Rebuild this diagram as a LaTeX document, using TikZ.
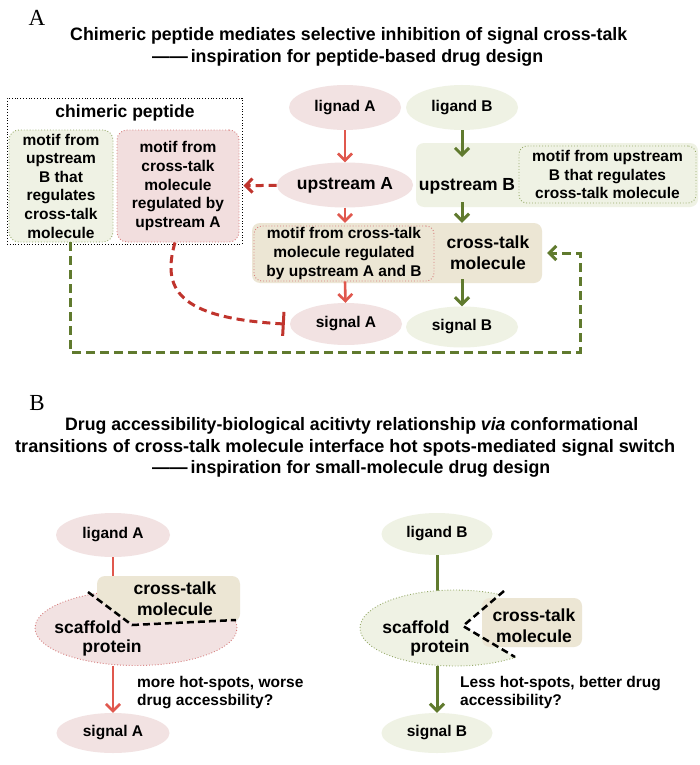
\documentclass[tikz,border=0pt]{standalone}
\usepackage{fontspec}
\usepackage{graphicx}
\setmainfont{Liberation Sans}
\newfontfamily\serifA{Liberation Serif}
\usetikzlibrary{arrows.meta,shapes.geometric}
\definecolor{pinkfill}{RGB}{242,226,226}
\definecolor{pinkbox}{RGB}{242,222,222}
\definecolor{greenfill}{RGB}{239,242,228}
\definecolor{tanfill}{RGB}{236,230,212}
\definecolor{redline}{RGB}{224,88,78}
\definecolor{darkred}{RGB}{192,52,45}
\definecolor{greenline}{RGB}{96,122,46}
\definecolor{reddot}{RGB}{215,125,125}
\definecolor{greendot}{RGB}{150,170,105}
\tikzset{
  ttl/.style={font=\bfseries\fontsize{18}{20}\selectfont, inner sep=0pt, anchor=base west},
  lbl/.style={font=\bfseries\fontsize{15.5}{18.6}\selectfont, align=center, inner sep=0pt},
  big/.style={font=\bfseries\fontsize{17.5}{21}\selectfont, align=center, inner sep=0pt},
  ell/.style={ellipse, minimum width=112pt, minimum height=44pt, inner sep=0pt},
  pinkell/.style={ell, fill=pinkfill},
  greenell/.style={ell, fill=greenfill},
  tip/.style={-{Straight Barb[length=7pt,width=14pt]}},
  rarr/.style={draw=redline, line width=2.6pt, tip},
  garr/.style={draw=greenline, line width=3pt, tip},
  rdash/.style={draw=darkred, line width=3pt, dash pattern=on 8pt off 5pt, tip},
  inh/.style={draw=darkred, line width=3pt, dash pattern=on 8pt off 5pt, -{Bar[width=24pt]}},
  gdash/.style={draw=greenline, line width=3pt, dash pattern=on 9pt off 5pt, tip},
  bdash/.style={draw=black, line width=2.5pt, dash pattern=on 7pt off 4pt},
  tanbox/.style={rectangle, rounded corners=8pt, fill=tanfill, inner sep=0pt},
}
\begin{document}
\begin{tikzpicture}[x=1pt,y=-1pt]
\useasboundingbox (0,0) rectangle (700,765);
\fill[white] (0,0) rectangle (700,765);

% ---------------- Panel A ----------------
\node[font=\serifA\fontsize{23}{23}\selectfont, inner sep=0pt] (labA) at (37,18) {A};
\node[ttl] (tA1) at (70,41) {\resizebox{557pt}{\height}{Chimeric peptide mediates selective inhibition of signal cross-talk}};
\node[ttl] (tA2) at (152,63) {\resizebox{391pt}{\height}{——\,inspiration for peptide-based drug design}};

% chimeric peptide container
\node[draw=black, dotted, line width=0.8pt, minimum width=235pt, minimum height=146pt, inner sep=0pt] (chim) at (124.5,171) {};
\node[big] (chimt) at (125,113) {chimeric peptide};
\node[lbl, rectangle, rounded corners=10pt, fill=greenfill, draw=greendot, dotted, line width=0.9pt, minimum width=104pt, minimum height=112pt] (gmotif) at (61,186) {motif from\\upstream\\B that\\regulates\\cross-talk\\molecule};
\node[lbl, rectangle, rounded corners=10pt, fill=pinkbox, draw=reddot, dotted, line width=0.9pt, minimum width=122pt, minimum height=112pt] (rmotif) at (178,186) {motif from\\cross-talk\\molecule\\regulated by\\upstream A};

% ligands / upstream
\node[pinkell, minimum height=45pt, lbl] (ligA) at (345,107.5) {lignad A};
\node[greenell, minimum height=45pt, lbl] (ligB) at (462,107.5) {ligand B};
\node[pinkell, minimum width=110pt, minimum height=45pt, big] (upA) at (345,185) {upstream A};

\node[tanbox, fill=greenfill, minimum width=282pt, minimum height=64pt] (upB) at (557,175) {};
\node[big] (upBt) at (467,186) {upstream B};
\node[lbl, rectangle, rounded corners=8pt, draw=greendot, dotted, line width=0.9pt, minimum width=177pt, minimum height=57pt] (bmotif) at (607.5,174.5) {motif from upstream\\B that regulates\\cross-talk molecule};

\node[tanbox, minimum width=290pt, minimum height=60pt] (ctbox) at (397,253) {};
\node[lbl, rectangle, rounded corners=8pt, fill=tanfill, draw=reddot, dotted, line width=0.9pt, minimum width=180pt, minimum height=55pt] (amotif) at (344,253.5) {motif from cross-talk\\molecule regulated\\by upstream A and B};
\node[big] (ctt) at (488,252.5) {cross-talk\\molecule};

\node[pinkell, minimum height=42pt, lbl] (sigA) at (346,324) {signal A};
\node[greenell, minimum height=41pt, lbl] (sigB) at (462,327) {signal B};

% connectors panel A
\draw[rarr] (ligA) -- (upA);
\coordinate (upBin) at (462,157);
\draw[garr] (ligB) -- (upBin);
\draw[rarr] (upA) -- (upA |- ctbox.north);
\draw[garr] ([yshift=5pt]upB.south -| ligB) -- (ligB |- ctbox.north);
\draw[rarr] (upA |- amotif.south) -- (sigA);
\draw[garr] ([yshift=4pt]ctbox.south -| sigB) -- (sigB);
\draw[rdash, shorten >=4pt] (upA) -- (rmotif);
\draw[inh] ([xshift=-3pt]rmotif.south) .. controls (162,288) and (176,318) .. ([xshift=-5pt]sigA.west);
\coordinate (fb2) at (580,352);
\coordinate (fb3) at (580,253);
\draw[gdash, shorten >=5pt] ([xshift=9pt]gmotif.south) |- (fb2) -- (fb3) -- (ctbox.east);

% ---------------- Panel B ----------------
\node[font=\serifA\fontsize{23}{23}\selectfont, inner sep=0pt] (labB) at (37,403) {B};
\node[ttl] (tB1) at (65,430) {\resizebox{573pt}{\height}{Drug accessibility-biological acitivty relationship \textit{via} conformational}};
\node[ttl] (tB2) at (15,452) {\resizebox{660pt}{\height}{transitions of cross-talk molecule interface hot spots-mediated signal switch}};
\node[ttl] (tB3) at (152,473) {\resizebox{398pt}{\height}{——\,inspiration for small-molecule drug design}};

% left
\node[pinkell, minimum width=114pt, lbl] (ligA2) at (113,535) {ligand A};
\node[ellipse, minimum width=202pt, minimum height=75pt, fill=pinkfill, draw=reddot, dotted, line width=0.9pt, inner sep=0pt] (scafA) at (136,628) {};
\coordinate (ctAtop) at (113,580);
\draw[draw=redline, line width=2.6pt] (ligA2) -- (ctAtop);
\begin{scope}
  \clip (60,560) -- (260,560) -- (260,619) -- (132,625) -- (60,571) -- cycle;
  \node[tanbox, minimum width=143pt, minimum height=46pt] (ctA) at (168.5,599) {};
\end{scope}
\draw[bdash] (88,592) -- (132,625) -- (236,620);
\node[big] (ctAt) at (175,599) {cross-talk\\molecule};
\node[big] (scA1) at (88,627) {scaffold};
\node[big] (scA2) at (112,648) {protein};
\node[pinkell, minimum width=113pt, minimum height=40pt, lbl] (sigA2) at (113,733) {signal A};
\draw[rarr] (ligA2 |- scafA.south) -- (sigA2);
\node[lbl, align=left, anchor=west] (noteA) at (137,692.5) {more hot-spots, worse\\drug accessbility?};

% right
\node[greenell, minimum width=111pt, minimum height=42pt, lbl] (ligB2) at (437,534) {ligand B};
\coordinate (scBtop) at (437,592);
\draw[draw=greenline, line width=3pt] (ligB2) -- (scBtop);
\begin{scope}
  \clip (340,560) -- (540,560) -- (463,626) -- (587,700) -- (340,700) -- cycle;
  \node[ellipse, minimum width=190pt, minimum height=76pt, fill=greenfill, draw=greendot, dotted, line width=0.9pt, inner sep=0pt] (scafB) at (455,628) {};
\end{scope}
\node[tanbox, minimum width=100pt, minimum height=49pt] (ctB) at (532,622.5) {};
\draw[bdash] (504,591) -- (463,626) -- (515,657);
\node[big] (ctBt) at (534,626) {cross-talk\\molecule};
\node[big] (scB1) at (416,627) {scaffold};
\node[big] (scB2) at (440,648) {protein};
\node[greenell, minimum width=111pt, minimum height=40pt, lbl] (sigB2) at (437,733) {signal B};
\draw[garr] (ligB2 |- scafB.south) -- (sigB2);
\node[lbl, align=left, anchor=west] (noteB) at (460,692.5) {Less hot-spots, better drug\\accessibility?};
\end{tikzpicture}
\end{document}
